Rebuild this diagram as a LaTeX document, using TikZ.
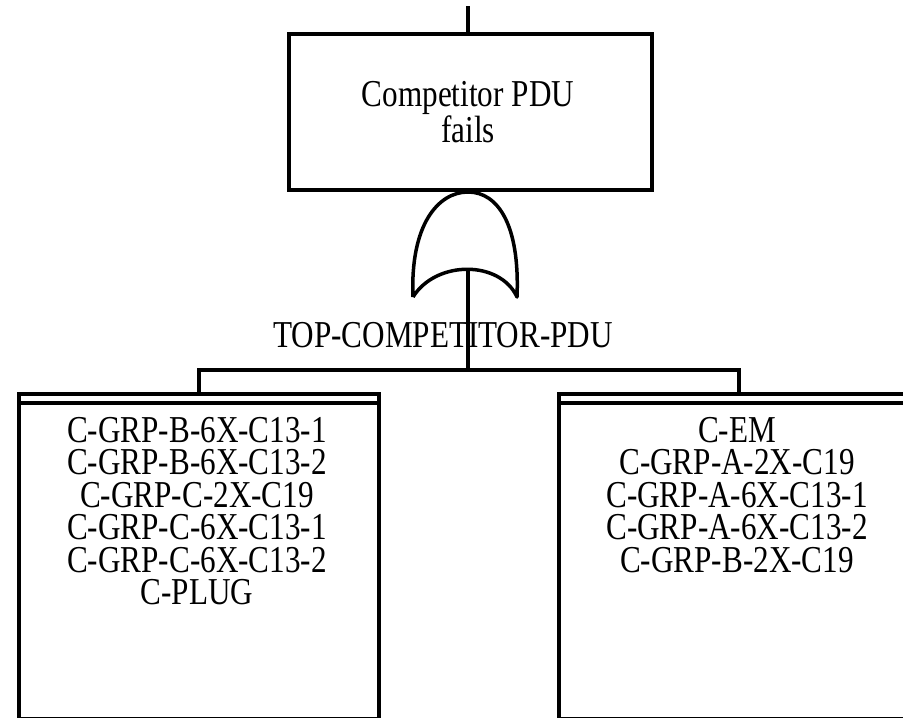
\documentclass[tikz,border=0pt]{standalone}
\usepackage{fontspec}
\setmainfont{Liberation Serif}[FakeStretch=0.82]
\begin{document}
\begin{tikzpicture}[x=1pt,y=-1pt,
  line/.style={line width=3.5pt},
  box/.style={draw,line width=3.5pt,rectangle,inner sep=0pt,anchor=north west},
  txt/.style={font=\fontsize{38}{32.5}\selectfont,align=center,inner sep=0pt},
]
\useasboundingbox (0,0) rectangle (903,718);
\clip (0,0) rectangle (903,718);
% top event
\coordinate (stemtop) at (468,6);
\node[box,minimum width=363pt,minimum height=156pt] (top) at (287,32) {};
\node[txt,anchor=north] (toptxt) at (468,81) {Competitor PDU\\fails};
\draw[line] (stemtop) -- (top.north -| stemtop);
% OR gate
\coordinate (gtop) at (468,192);
\coordinate (gl) at (413,297);
\coordinate (gr) at (517,297);
\coordinate (gbot) at (468,269);
\draw[line,line join=round] (gl) .. controls (410,225) and (438,192) .. (gtop)
  .. controls (498,192) and (520,225) .. (gr)
  .. controls (500,260) and (436,260) .. (gl);
\draw[line] (top.south -| gtop) -- (gtop);
% gate label
\node[txt,anchor=base] (glabel) at (443,347) {TOP-COMPETITOR-PDU};
% children
\node[box,minimum width=360pt,minimum height=325pt] (left) at (17,392) {};
\node[box,minimum width=360pt,minimum height=325pt] (right) at (557,392) {};
\draw[line] ([yshift=-11pt]left.north west) -- ([yshift=-11pt]left.north east);
\draw[line] ([yshift=-11pt]right.north west) -- ([yshift=-11pt]right.north east);
\coordinate (bus) at (468,370);
\draw[line] (gbot) -- (bus);
\draw[line] (left.north) -- (left.north |- bus) -- (right.north |- bus) -- (right.north);
\node[txt,anchor=north] (lefttxt) at (197,417) {C-GRP-B-6X-C13-1\\C-GRP-B-6X-C13-2\\C-GRP-C-2X-C19\\C-GRP-C-6X-C13-1\\C-GRP-C-6X-C13-2\\C-PLUG};
\node[txt,anchor=north] (righttxt) at (737,417) {C-EM\\C-GRP-A-2X-C19\\C-GRP-A-6X-C13-1\\C-GRP-A-6X-C13-2\\C-GRP-B-2X-C19};
\end{tikzpicture}
\end{document}
